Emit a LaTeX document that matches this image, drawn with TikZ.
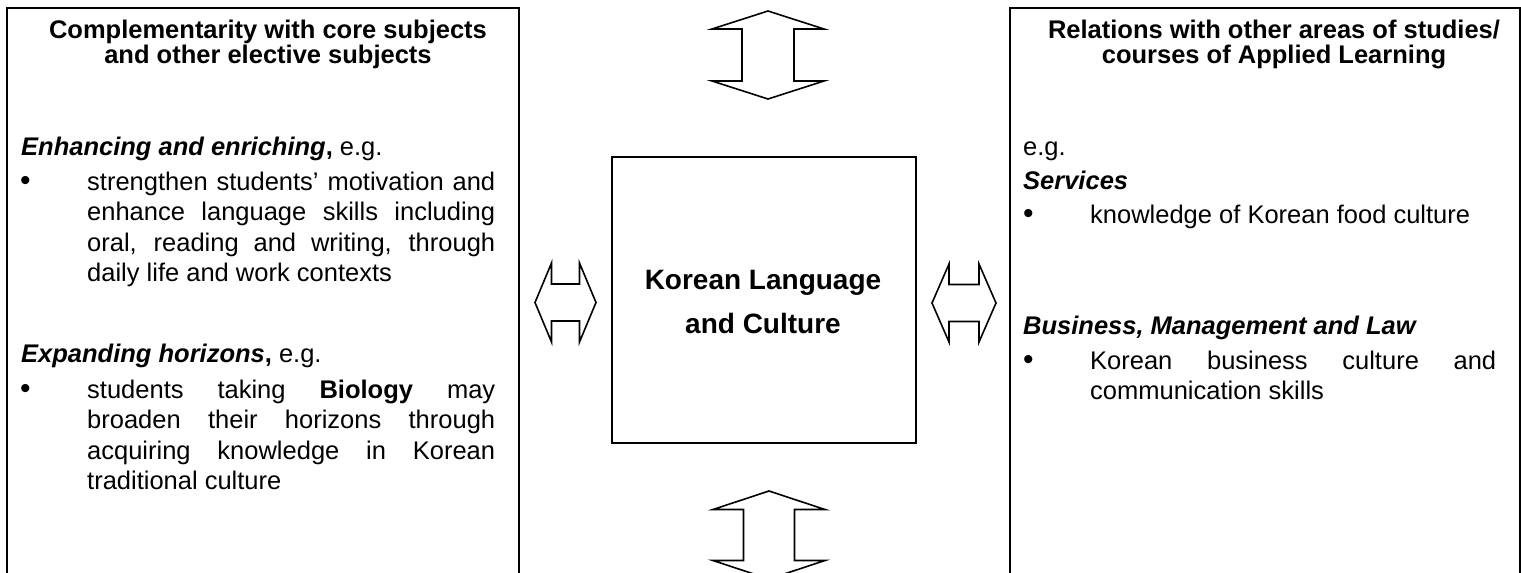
\documentclass[tikz,border=0pt]{standalone}
\usepackage{fontspec}
\setmainfont{Liberation Sans}

\tikzset{
  panel/.style={draw, line width=2.2pt, anchor=north west, inner sep=0pt},
  blockarrow/.style={draw, line width=1.6pt, line join=miter},
  headtext/.style={font=\bfseries\fontsize{25.5}{25}\selectfont, align=center, anchor=base, inner sep=0pt},
  coretext/.style={font=\bfseries\fontsize{28}{44}\selectfont, align=center, anchor=base, inner sep=0pt},
  bodytext/.style={font=\fontsize{25.5}{30.5}\selectfont, anchor=base west, inner sep=0pt},
  itemtext/.style={bodytext, text width=408pt, align=justify},
  dot/.style={bodytext, font=\fontsize{30}{30}\selectfont},
  pics/dblarrow/.style n args={4}{code={
    \draw[blockarrow] (-#1,0) -- (-#2,#3) -- (-#2,#4) -- (#2,#4) -- (#2,#3) -- (#1,0)
      -- (#2,-#3) -- (#2,-#4) -- (-#2,-#4) -- (-#2,-#3) -- cycle;
  }},
}

\begin{document}
\begin{tikzpicture}[x=1pt, y=-1pt]
\path[use as bounding box] (0,0) rectangle (1521,573);
\clip (0,0) rectangle (1521,573);

% the three boxes
\node[panel, minimum width=512pt, minimum height=700pt] (comp) at (6,7) {};
\node[panel, minimum width=304pt, minimum height=286pt] (core) at (611,156) {};
\node[panel, minimum width=510pt, minimum height=700pt] (rel) at (1009,7) {};

% left box
\node[headtext] (comphead) at (268,63) {Complementarity with core subjects\\and other elective subjects};
\node[bodytext] (enh) at (21,155) {\textbf{\textit{Enhancing and enriching},} e.g.};
\node[dot] (enhdot) at (20,190) {•};
\node[itemtext] (enhitem) at (87,190) {strengthen students’ motivation and\linebreak
  enhance language skills including\linebreak oral, reading and writing, through\linebreak
  daily life and work contexts};
\node[bodytext] (exp) at (21,362) {\textbf{\textit{Expanding horizons},} e.g.};
\node[dot] (expdot) at (20,398) {•};
\node[itemtext] (expitem) at (87,398) {students taking \textbf{Biology} may\linebreak
  broaden their horizons through\linebreak acquiring knowledge in Korean\linebreak
  traditional culture};

% centre box
\node[coretext] (coretitle) at (763,333) {Korean Language\\and Culture};

% right box
\node[headtext] (relhead) at (1274,63) {Relations with other areas of studies/\\courses of Applied Learning};
\node[bodytext] (eg) at (1023,155) {e.g.};
\node[bodytext] (serv) at (1023,189) {\textbf{\textit{Services}}};
\node[dot] (servdot) at (1023,223) {•};
\node[bodytext] (servitem) at (1090,223) {knowledge of Korean food culture};
\node[bodytext] (bus) at (1023,334) {\textbf{\textit{Business, Management and Law}}};
\node[dot] (busdot) at (1023,369) {•};
\node[itemtext, text width=406pt] (busitem) at (1090,369) {Korean business culture and\linebreak
  communication skills};

% double arrows
\pic[rotate=90] at (768,55) {dblarrow={44}{26}{56}{26}};
\pic[rotate=90] at (769,535) {dblarrow={44}{25.5}{56}{25.5}};
\pic at (565.5,302.5) {dblarrow={30.5}{14}{39.5}{18.5}};
\pic at (964,303) {dblarrow={32}{15}{39}{18.5}};

\end{tikzpicture}
\end{document}
